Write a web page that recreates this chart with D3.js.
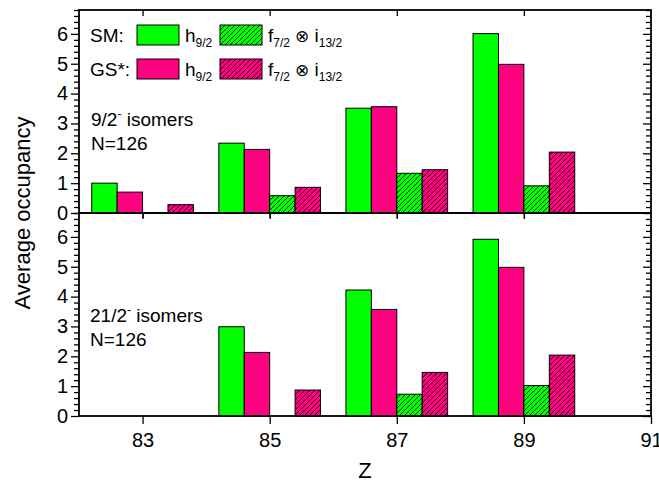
<!DOCTYPE html>
<html>
<head lang="en">
    <meta charset="UTF-8">
    <title>Average occupancy</title>
    <script src="https://d3js.org/d3.v7.min.js"></script>
    <style>
        body { margin: 0; background: #fff; }
        text { font-family: "Liberation Sans", Arial, sans-serif; fill: #000; }
    </style>
</head>
<body>
<div id="chart"></div>
<script type="text/javascript">

    // Z groups and the four series, panel by panel
    var zValues = [83, 85, 87, 89];
    var seriesNames = ["SM h9/2", "GS h9/2", "SM f7/2 x i13/2", "GS f7/2 x i13/2"];

    // 9/2- isomers (top panel); null = no bar
    var top_SM_h = [1.00, 2.34, 3.51, 6.01];
    var top_GS_h = [0.70, 2.13, 3.56, 4.98];
    var top_SM_fi = [null, 0.58, 1.33, 0.91];
    var top_GS_fi = [0.28, 0.86, 1.45, 2.04];

    // 21/2- isomers (bottom panel)
    var bot_SM_h = [null, 2.99, 4.22, 5.92];
    var bot_GS_h = [null, 2.13, 3.57, 4.98];
    var bot_SM_fi = [null, null, 0.73, 1.02];
    var bot_GS_fi = [null, 0.87, 1.46, 2.04];

    var xTicks = [83, 85, 87, 89, 91];
    var yTicks = [0, 1, 2, 3, 4, 5, 6];

    var green = "#00ff00", pink = "#ff0080";

    var W = 659, H = 484;
    var left = 79, right = 651;
    var topY = 10, midY = 213, botY = 416;

    var svg = d3.select("#chart").append("svg")
        .attr("width", W).attr("height", H);

    // hatch patterns "/"
    var defs = svg.append("defs");
    [["hatchGreen", green], ["hatchPink", pink]].forEach(function (p) {
        var pat = defs.append("pattern")
            .attr("id", p[0])
            .attr("patternUnits", "userSpaceOnUse")
            .attr("width", 5).attr("height", 5);
        pat.append("rect").attr("width", 5).attr("height", 5).attr("fill", p[1]);
        pat.append("path")
            .attr("d", "M0,5 L5,0 M-1,1 L1,-1 M4,6 L6,4")
            .attr("stroke", "#000").attr("stroke-width", 0.8);
    });

    var x = d3.scaleLinear().domain([82, 91]).range([left, right]);
    var barW = 0.4;
    var fills = [green, pink, "url(#hatchGreen)", "url(#hatchPink)"];

    function panel(y0, y1, data, isTop) {
        var y = d3.scaleLinear().domain([0, 6.8]).range([y1, y0]);
        var g = svg.append("g");

        // bars
        data.forEach(function (vals, si) {
            g.selectAll(null)
                .data(zValues.map(function (z, i) { return {z: z, v: vals[i]}; })
                    .filter(function (d) { return d.v != null; }))
                .enter().append("rect")
                .attr("x", function (d) { return x(d.z - 0.8 + barW * si); })
                .attr("width", function (d) { return x(d.z - 0.8 + barW * (si + 1)) - x(d.z - 0.8 + barW * si); })
                .attr("y", function (d) { return y(d.v); })
                .attr("height", function (d) { return y(0) - y(d.v); })
                .attr("fill", fills[si])
                .attr("stroke", "#000")
                .attr("stroke-width", 1);
        });

        // minor ticks
        var minor = d3.range(0, 6.81, 0.2).filter(function (v) {
            return Math.abs(v - Math.round(v)) > 0.01;
        });
        var axL = g.append("g").attr("transform", "translate(" + left + ",0)")
            .call(d3.axisLeft(y).tickValues(yTicks).tickSize(8).tickPadding(3)
                .tickFormat(d3.format("d")));
        g.append("g").attr("transform", "translate(" + left + ",0)")
            .call(d3.axisLeft(y).tickValues(minor).tickSize(5).tickFormat(""));
        g.append("g").attr("transform", "translate(" + right + ",0)")
            .call(d3.axisRight(y).tickValues(yTicks).tickSize(-8).tickFormat(""));
        g.append("g").attr("transform", "translate(" + right + ",0)")
            .call(d3.axisRight(y).tickValues(minor).tickSize(-5).tickFormat(""));
        axL.selectAll("text").style("font-size", "20px");

        // x ticks along top and bottom edges
        var xt = xTicks.slice(0, 4);
        g.append("g").attr("transform", "translate(0," + y0 + ")")
            .call(d3.axisBottom(x).tickValues(xt).tickSize(6).tickFormat(""));
        var axB = g.append("g").attr("transform", "translate(0," + y1 + ")")
            .call(d3.axisBottom(x).tickValues(isTop ? xt : xTicks)
                .tickSize(isTop ? 5 : 8).tickPadding(9)
                .tickFormat(isTop ? "" : d3.format("d")));
        axB.selectAll("text").style("font-size", "20px");

        g.selectAll(".domain").remove();
        g.selectAll(".tick line").attr("stroke", "#000").attr("stroke-width", 1.3);

        // frame
        g.append("rect")
            .attr("x", left).attr("y", y0)
            .attr("width", right - left).attr("height", y1 - y0)
            .attr("fill", "none").attr("stroke", "#000").attr("stroke-width", 1.8);
        return g;
    }

    panel(topY, midY, [top_SM_h, top_GS_h, top_SM_fi, top_GS_fi], true);
    panel(midY, botY, [bot_SM_h, bot_GS_h, bot_SM_fi, bot_GS_fi], false);

    // annotations
    function isomerLabel(xp, yb, spin) {
        var t = svg.append("text").attr("x", xp).attr("y", yb).style("font-size", "19px");
        t.append("tspan").text(spin);
        t.append("tspan").attr("dy", -8).style("font-size", "12px").text("-");
        t.append("tspan").attr("dy", 8).text(" isomers");
        svg.append("text").attr("x", xp).attr("y", yb + 24).style("font-size", "19px").text("N=126");
    }
    isomerLabel(91, 126, "9/2");
    isomerLabel(90, 322, "21/2");

    // legend
    var legendRows = [{label: "SM:", fills: [fills[0], fills[2]], y: 25},
                      {label: "GS*:", fills: [fills[1], fills[3]], y: 59}];
    legendRows.forEach(function (r) {
        svg.append("text").attr("x", 90).attr("y", r.y + 17).style("font-size", "19px").text(r.label);
        svg.append("rect").attr("x", 137).attr("y", r.y).attr("width", 42).attr("height", 20)
            .attr("fill", r.fills[0]).attr("stroke", "#000");
        svg.append("rect").attr("x", 220).attr("y", r.y).attr("width", 42).attr("height", 20)
            .attr("fill", r.fills[1]).attr("stroke", "#000");
        var t1 = svg.append("text").attr("x", 185).attr("y", r.y + 17).style("font-size", "19px");
        t1.append("tspan").text("h");
        t1.append("tspan").attr("dy", 5).style("font-size", "12px").text("9/2");
        var t2 = svg.append("text").attr("x", 268).attr("y", r.y + 17).style("font-size", "19px");
        t2.append("tspan").text("f");
        t2.append("tspan").attr("dy", 5).style("font-size", "12px").text("7/2");
        t2.append("tspan").attr("dy", -5).text(" ");
        t2.append("tspan").style("font-family", "DejaVu Sans").style("font-weight", "300")
            .style("font-size", "17px").text("\u2297");
        t2.append("tspan").text(" i");
        t2.append("tspan").attr("dy", 5).style("font-size", "12px").text("13/2");
    });

    // axis titles
    svg.append("text")
        .attr("x", (left + right) / 2).attr("y", 478)
        .attr("text-anchor", "middle").style("font-size", "22px").text("Z");
    svg.append("text")
        .attr("transform", "translate(30," + midY + ") rotate(-90)")
        .attr("text-anchor", "middle").style("font-size", "22px").text("Average occupancy");

</script>
</body>
</html>
